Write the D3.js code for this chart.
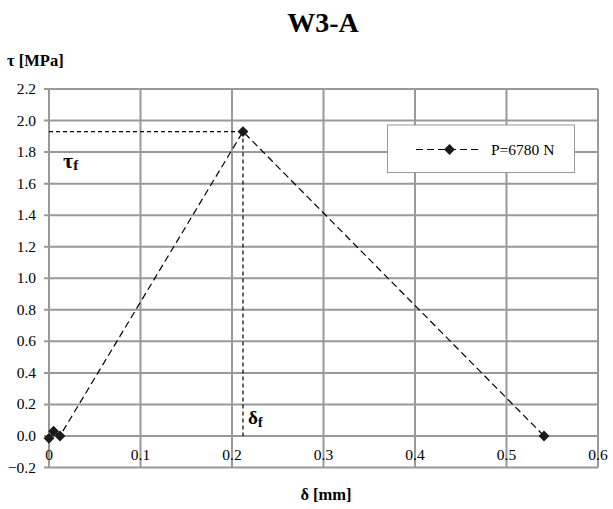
<!DOCTYPE html>
<html><head><meta charset="utf-8">
<script src="https://cdn.jsdelivr.net/npm/d3@7"></script>
<style>body{margin:0;background:#fff}svg{display:block}</style>
</head><body>
<script>
const title = "W3-A";
const seriesName = "P=6780 N";
const deltaMM = [0, 0.005, 0.012, 0.212, 0.541];
const tauMPa = [-0.015, 0.03, 0.0, 1.93, 0.0];
const xTicks = [0, 0.1, 0.2, 0.3, 0.4, 0.5, 0.6];
const yTicks = [-0.2, 0, 0.2, 0.4, 0.6, 0.8, 1.0, 1.2, 1.4, 1.6, 1.8, 2.0, 2.2];
const peakDelta = 0.212, peakTau = 1.93;

const W = 613, H = 509;
const FONT = "Liberation Serif";
const svg = d3.select("body").append("svg").attr("width", W).attr("height", H);
const x = d3.scaleLinear().domain([0, 0.6]).range([49, 598]);
const y = d3.scaleLinear().domain([-0.2, 2.2]).range([467.5, 89]);
const grid = "#999";

svg.append("g").selectAll("line").data(yTicks).join("line")
  .attr("x1", x(0) - 5).attr("x2", x(0.6))
  .attr("y1", d => y(d)).attr("y2", d => y(d))
  .attr("stroke", grid).attr("stroke-width", 2);
svg.append("g").selectAll("line").data(xTicks).join("line")
  .attr("x1", d => x(d)).attr("x2", d => x(d))
  .attr("y1", y(2.2)).attr("y2", y(-0.2))
  .attr("stroke", grid).attr("stroke-width", 2);

svg.append("g").selectAll("text").data(yTicks).join("text")
  .attr("x", x(0) - 13).attr("y", d => y(d) + 5)
  .attr("text-anchor", "end").attr("font-size", 15.5).attr("font-family", FONT)
  .text(d => d3.format(".1f")(d));
svg.append("g").selectAll("text").data(xTicks).join("text")
  .attr("x", d => x(d)).attr("y", y(0) + 24)
  .attr("text-anchor", "middle").attr("font-size", 15.5).attr("font-family", FONT)
  .text(d => d === 0 ? "0" : d3.format(".1f")(d));

svg.append("line").attr("x1", x(0)).attr("x2", x(peakDelta))
  .attr("y1", y(peakTau)).attr("y2", y(peakTau))
  .attr("stroke", "#000").attr("stroke-width", 1.2).attr("stroke-dasharray", "4,3");
svg.append("line").attr("x1", x(peakDelta)).attr("x2", x(peakDelta))
  .attr("y1", y(peakTau)).attr("y2", y(0))
  .attr("stroke", "#000").attr("stroke-width", 1.2).attr("stroke-dasharray", "4,3");

const pts = deltaMM.map((d, i) => [d, tauMPa[i]]);
svg.append("path").datum(pts)
  .attr("d", d3.line().x(d => x(d[0])).y(d => y(d[1])))
  .attr("fill", "none").attr("stroke", "#000").attr("stroke-width", 1.2)
  .attr("stroke-dasharray", "7,4");
const diamond = d3.symbol().type(d3.symbolDiamond2).size(75);
svg.append("g").selectAll("path").data(pts).join("path")
  .attr("transform", d => `translate(${x(d[0])},${y(d[1])})`)
  .attr("d", diamond).attr("fill", "#1a1a1a");

svg.append("text").attr("x", 323).attr("y", 32).attr("text-anchor", "middle")
  .attr("font-size", 28).attr("font-weight", "bold").attr("font-family", FONT).text(title);
svg.append("text").attr("x", 7).attr("y", 66).attr("font-size", 16.5)
  .attr("font-weight", "bold").attr("font-family", FONT).text("τ [MPa]");
svg.append("text").attr("x", 326).attr("y", 500).attr("text-anchor", "middle")
  .attr("font-size", 16.5).attr("font-weight", "bold").attr("font-family", FONT).text("δ [mm]");

const tf = svg.append("text").attr("x", 63).attr("y", 168).attr("font-weight", "bold").attr("font-family", FONT);
tf.append("tspan").attr("font-size", 22).text("τ");
tf.append("tspan").attr("font-size", 15).attr("dy", 2).text("f");
const df = svg.append("text").attr("x", 248).attr("y", 424).attr("font-weight", "bold").attr("font-family", FONT);
df.append("tspan").attr("font-size", 19).text("δ");
df.append("tspan").attr("font-size", 14).attr("dy", 3).text("f");

const lg = svg.append("g");
lg.append("rect").attr("x", 387.5).attr("y", 125).attr("width", 187).attr("height", 47.5)
  .attr("fill", "#fff").attr("stroke", "#999").attr("stroke-width", 1);
lg.append("line").attr("x1", 416).attr("x2", 481).attr("y1", 149.5).attr("y2", 149.5)
  .attr("stroke", "#000").attr("stroke-width", 1.2).attr("stroke-dasharray", "7,4");
lg.append("path").attr("transform", "translate(449.5,149.5)").attr("d", diamond).attr("fill", "#1a1a1a");
lg.append("text").attr("x", 491).attr("y", 154.5).attr("font-size", 15.5).attr("font-family", FONT).text(seriesName);
</script>
</body></html>
